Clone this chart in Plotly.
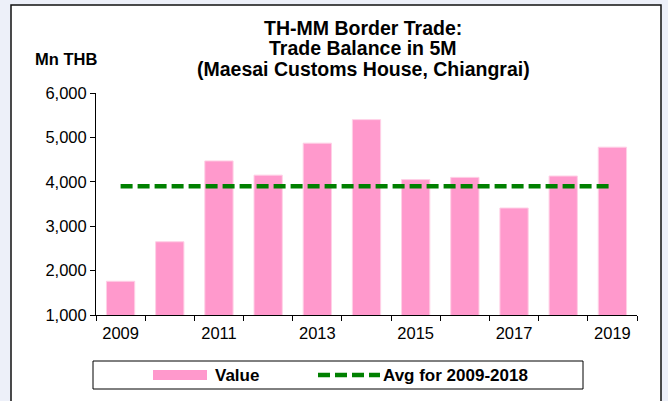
import plotly.graph_objects as go

# Trade balance, first five months of each year (Mn THB)
years = [2009, 2010, 2011, 2012, 2013, 2014, 2015, 2016, 2017, 2018, 2019]
values = [1760, 2650, 4470, 4150, 4870, 5400, 4050, 4100, 3410, 4130, 4780]
avg_period = (2009, 2018)
x_tick_years = [2009, 2011, 2013, 2015, 2017, 2019]
y_tick_values = [1000, 2000, 3000, 4000, 5000, 6000]

title_lines = [
    "TH-MM Border Trade:",
    "Trade Balance in 5M",
    "(Maesai Customs House, Chiangrai)",
]
unit_label = "Mn THB"
bar_name = "Value"
avg_name = "Avg for 2009-2018"

FONT = "Liberation Sans, Arial, sans-serif"
BAR_COLOR = "#ff99cc"
AVG_COLOR = "#008000"

# canvas and plot-area geometry (pixels)
W, H = 668, 401
ML, MR, MT, MB = 96, 31, 93, 86
PW = W - ML - MR
PH = H - MT - MB


def px(x):
    """pixel column -> paper x"""
    return (x - ML) / PW


def py(y):
    """pixel row -> paper y"""
    return (H - MB - y) / PH


period_vals = [v for yr, v in zip(years, values) if avg_period[0] <= yr <= avg_period[1]]
avg_value = sum(period_vals) / len(period_vals)

fig = go.Figure()
fig.add_trace(go.Bar(
    x=years, y=values, name=bar_name,
    marker=dict(color=BAR_COLOR, line=dict(color="#ffd0e6", width=1)),
    showlegend=False,
))
fig.add_trace(go.Scatter(
    x=[years[0], years[-1]], y=[avg_value, avg_value], name=avg_name,
    mode="lines", line=dict(color=AVG_COLOR, width=4.5, dash="12px,5px"),
    showlegend=False,
))

boundaries = [y - 0.5 for y in years] + [years[-1] + 0.5]

shapes = [
    # white chart frame on the slide background
    dict(type="rect", xref="paper", yref="paper", layer="below",
         x0=px(11), x1=px(661), y0=py(440), y1=py(5),
         fillcolor="white", line=dict(color="#111111", width=1.5)),
    # legend box
    dict(type="rect", xref="paper", yref="paper",
         x0=px(93), x1=px(583), y0=py(389), y1=py(361),
         fillcolor="rgba(0,0,0,0)", line=dict(color="black", width=1)),
    # legend keys
    dict(type="rect", xref="paper", yref="paper",
         x0=px(153), x1=px(207), y0=py(380), y1=py(370),
         fillcolor=BAR_COLOR, line=dict(width=0)),
    dict(type="line", xref="paper", yref="paper",
         x0=px(318), x1=px(380), y0=py(375), y1=py(375),
         line=dict(color=AVG_COLOR, width=4.5, dash="12px,5px")),
]

annotations = []
for i, line in enumerate(title_lines):
    annotations.append(dict(
        text=f"<b>{line}</b>", xref="paper", yref="paper",
        x=px(363), y=py(28 + 20.5 * i), xanchor="center", yanchor="middle",
        showarrow=False, font=dict(family=FONT, size=19.5, color="black"),
    ))
annotations.append(dict(
    text=f"<b>{unit_label}</b>", xref="paper", yref="paper",
    x=px(66), y=py(59), xanchor="center", yanchor="middle",
    showarrow=False, font=dict(family=FONT, size=16.5, color="black"),
))
annotations.append(dict(
    text=f"<b>{bar_name}</b>", xref="paper", yref="paper",
    x=px(213), y=py(375), xanchor="left", yanchor="middle",
    showarrow=False, font=dict(family=FONT, size=17, color="black"),
))
annotations.append(dict(
    text=f"<b>{avg_name}</b>", xref="paper", yref="paper",
    x=px(381), y=py(375), xanchor="left", yanchor="middle",
    showarrow=False, font=dict(family=FONT, size=17, color="black"),
))

fig.update_layout(
    width=W, height=H, autosize=False,
    margin=dict(l=ML, r=MR, t=MT, b=MB, pad=0),
    paper_bgcolor="#edf0f9",
    plot_bgcolor="rgba(0,0,0,0)",
    bargap=0.425,
    showlegend=False,
    shapes=shapes,
    annotations=annotations,
    font=dict(family=FONT, color="black"),
    xaxis=dict(
        range=[years[0] - 0.5, years[-1] + 0.5],
        tickmode="array", tickvals=x_tick_years,
        ticktext=[str(y) for y in x_tick_years],
        ticks="", showgrid=False, zeroline=False,
        showline=True, linecolor="black", linewidth=1,
        ticklabelstandoff=3,
        tickfont=dict(family=FONT, size=16.5, color="black"),
        minor=dict(tickmode="array", tickvals=boundaries, ticks="outside",
                   ticklen=5, tickwidth=1, tickcolor="black"),
    ),
    yaxis=dict(
        range=[y_tick_values[0], y_tick_values[-1]],
        tickmode="array", tickvals=y_tick_values, tickformat=",",
        ticks="outside", ticklen=5, tickwidth=1, tickcolor="black",
        showgrid=False, zeroline=False,
        showline=True, linecolor="black", linewidth=1,
        tickfont=dict(family=FONT, size=16.5, color="black"),
    ),
)

fig.write_html("out.html")
